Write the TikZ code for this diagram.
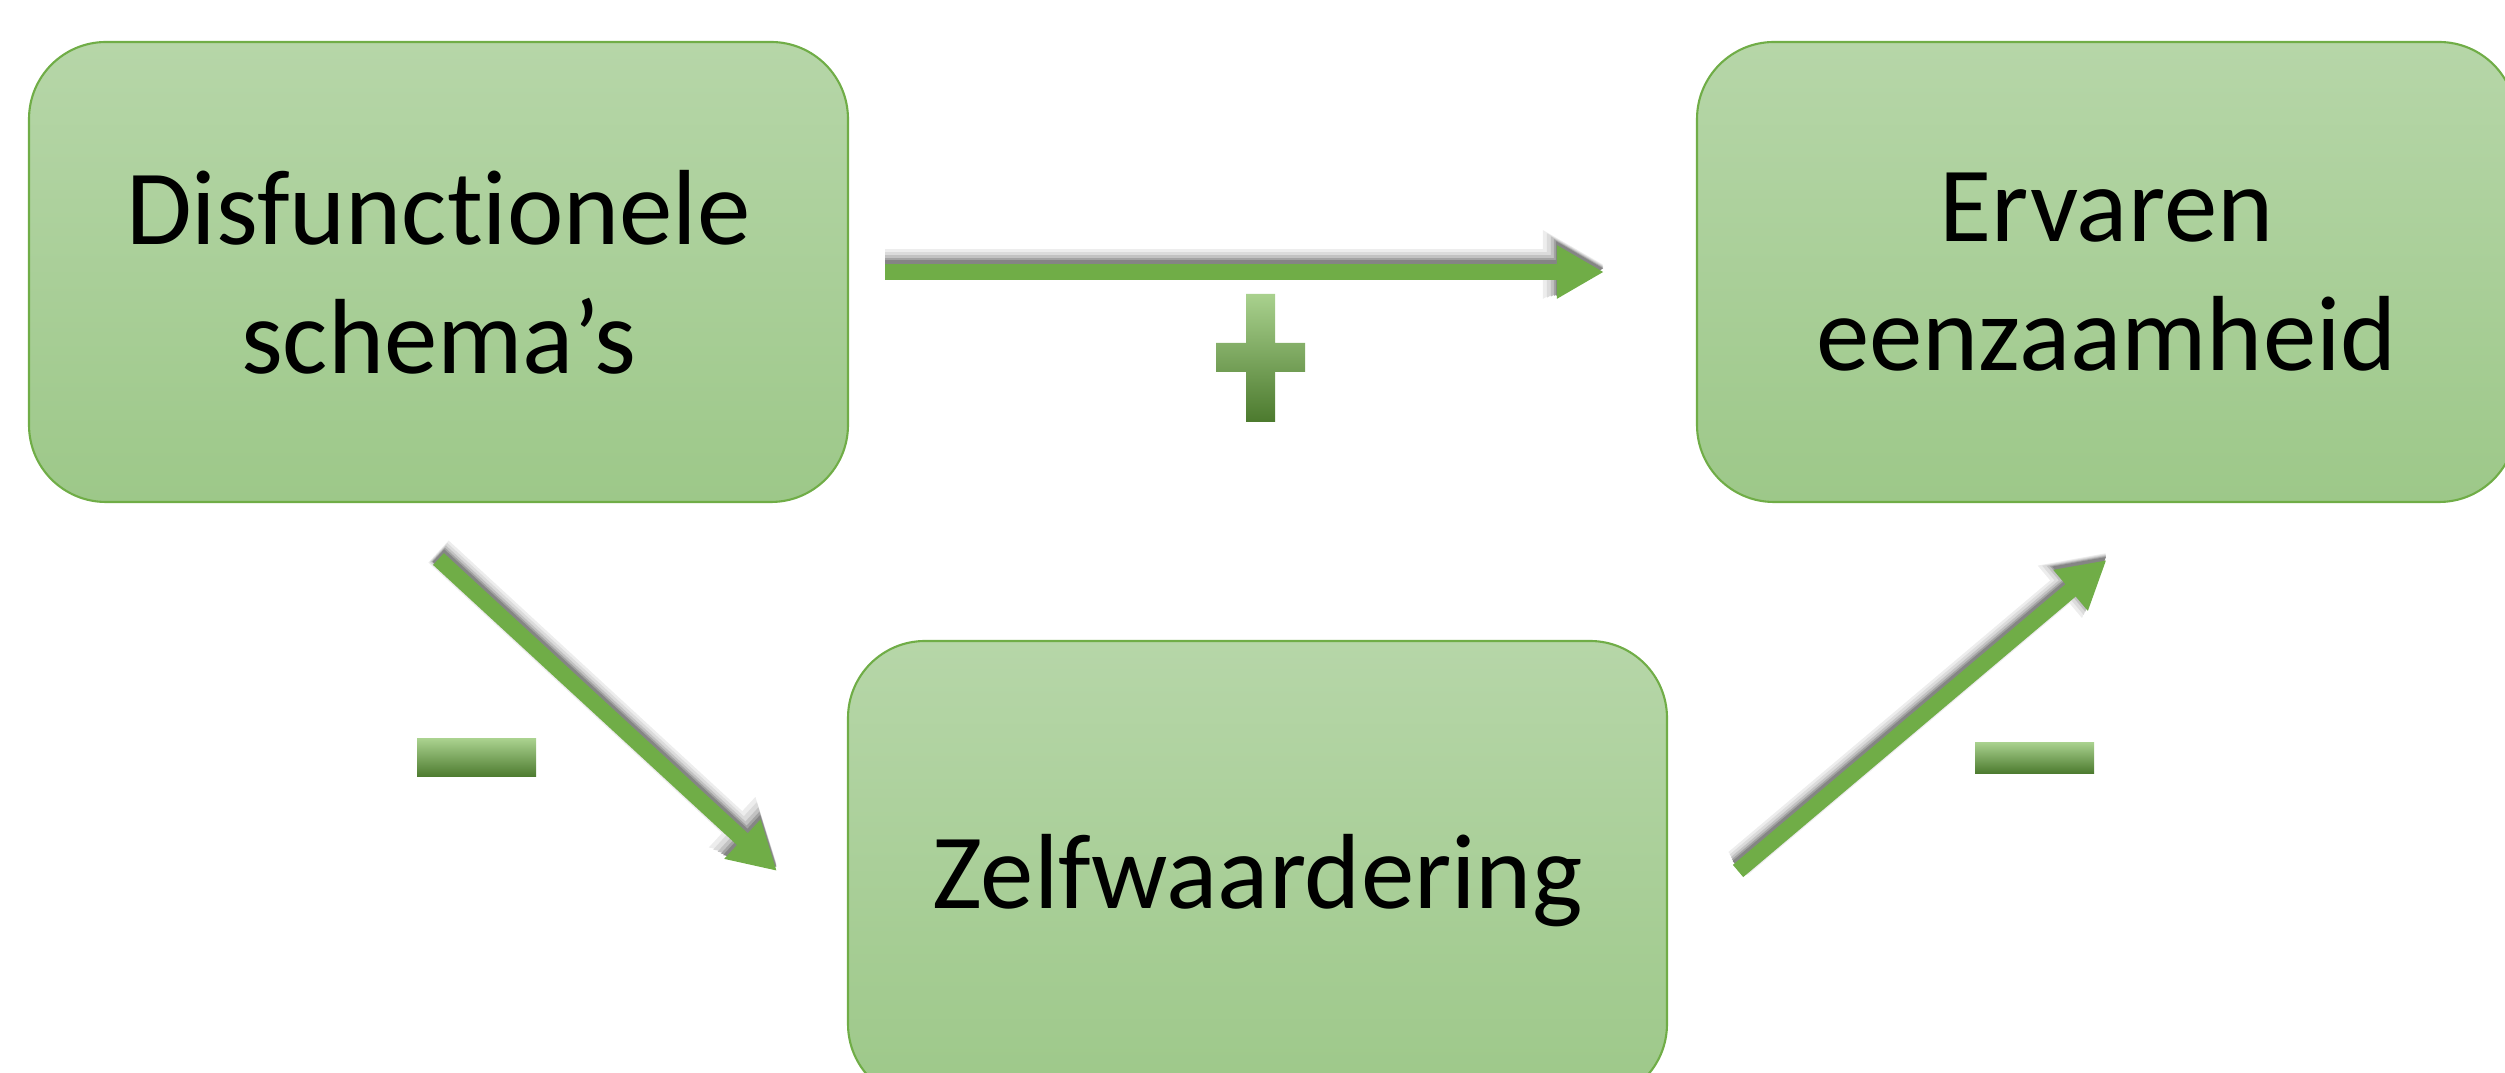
\documentclass[tikz,border=0pt]{standalone}
\usepackage{fontspec}
\setmainfont{Carlito}[Ligatures=NoCommon]
\usetikzlibrary{positioning,calc,arrows.meta}

\definecolor{boxtop}{RGB}{182,214,168}
\definecolor{boxbot}{RGB}{157,200,137}
\definecolor{leaf}{RGB}{112,173,71}
\definecolor{signtop}{RGB}{169,209,142}
\definecolor{signbot}{RGB}{76,122,46}

\tikzset{
  factor/.style={draw=leaf, line width=0.6pt, top color=boxtop, bottom color=boxbot,
    rounded corners=7.7mm, minimum width=81.9mm, minimum height=46mm,
    align=center, inner sep=0pt, text depth=0pt, font=\fontsize{30.4}{36.8}\selectfont},
  tipped/.style={-{Triangle[length=3.1mm 1,width=3.4mm 1]}},
  link/.style={tipped, draw=leaf, line width=1.6mm},
  blurline/.style={tipped, line width=#1},
}

\begin{document}
\begin{tikzpicture}[x=0.1mm, y=0.1mm]
    \clip (0,0) rectangle (2505,1073);
    \useasboundingbox (0,0) rectangle (2505,1073);

    % the three factors
    \node[factor] (schema) at (438.5,801) {Disfunctionele\\schema’s};
    \node[factor] (lonely) at (2106.5,801) {Ervaren\\eenzaamheid};
    \node[factor] (selfworth) at (1257.5,202) {Zelfwaardering};

    % end points of the links
    \coordinate (topA) at ($(schema.east)+(36,0)$);
    \coordinate (topB) at ($(lonely.west)+(-92,0)$);
    \coordinate (leftA) at ($(schema.south)+(0,-56)$);
    \coordinate (leftB) at ($(selfworth.west)+(-70,0)$);
    \coordinate (rightA) at ($(selfworth.east)+(70,0)$);
    \coordinate (rightB) at ($(lonely.south)+(0,-57)$);

    % soft shadows first, then the arrows
    \foreach \a/\b in {topA/topB, leftA/leftB, rightA/rightB}{
      \foreach \w/\c/\s in {3.0mm/7/0.75mm, 2.6mm/14/0.65mm, 2.2mm/24/0.55mm, 1.9mm/36/0.45mm, 1.7mm/48/0.35mm}{
        \draw[blurline=\w, draw=black!\c, fill=black!\c, transform canvas={yshift=\s}] (\a) -- (\b);
      }
    }
    \draw[link] (topA) -- (topB);
    \draw[link] (leftA) -- (leftB);
    \draw[link] (rightA) -- (rightB);

    % signs
    \shade[top color=signtop, middle color=leaf, bottom color=signbot]
      (1246,779) -- (1275,779) -- (1275,730) -- (1305,730) -- (1305,701)
      -- (1275,701) -- (1275,651) -- (1246,651) -- (1246,701) -- (1216,701)
      -- (1216,730) -- (1246,730) -- cycle;
    \node[top color=signtop, middle color=leaf, bottom color=signbot, minimum width=11.9mm,
      minimum height=3.8mm, inner sep=0pt] (minusA) at (476.5,315) {};
    \node[top color=signtop, middle color=leaf, bottom color=signbot, minimum width=11.9mm,
      minimum height=3.1mm, inner sep=0pt] (minusB) at (2034.5,315) {};
\end{tikzpicture}
\end{document}
